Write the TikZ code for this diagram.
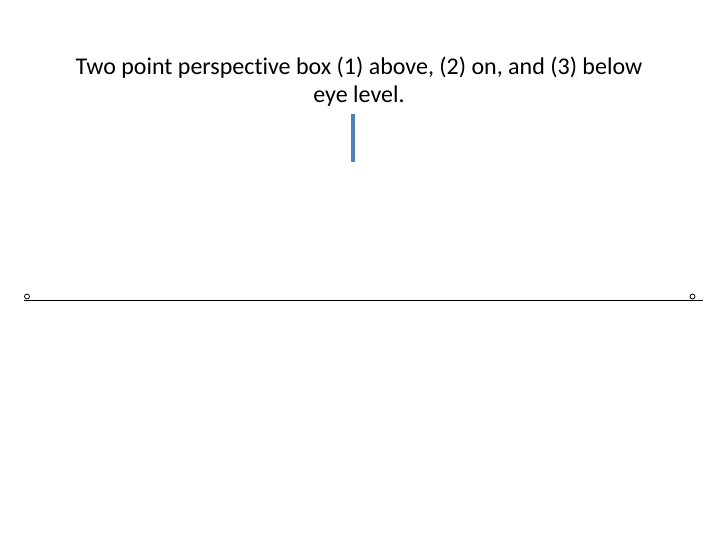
\documentclass[tikz,border=0pt]{standalone}
\usepackage{fontspec}
\setmainfont[Ligatures=NoCommon]{Carlito}
\definecolor{accentblue}{RGB}{79,129,189}

\begin{document}
\begin{tikzpicture}[x=1pt,y=1pt]
    \tikzstyle{vp}=[draw,circle,line width=0.8pt,minimum size=5pt,inner sep=0pt]
    \useasboundingbox (0,0) rectangle (720,540);

    % Title, two lines
    \node (title) at (359,458) [align=center,font=\fontsize{24}{28}\selectfont]
        {Two point perspective box (1) above, (2) on, and (3) below\\eye level.};

    % The vertical edge of the box
    \coordinate (edgetop) at (353,426);
    \coordinate (edgebot) at (353,378);
    \draw[accentblue,line width=3.5pt] (edgetop) -- (edgebot);

    % Horizon line with its two vanishing points
    \coordinate (hleft) at (24,240);
    \coordinate (hright) at (703,240);
    \draw[line width=0.8pt] (hleft) -- (hright);
    \node (vpleft) at (27,243.5) [vp] {};
    \node (vpright) at (692.5,243.5) [vp] {};

\end{tikzpicture}
\end{document}
